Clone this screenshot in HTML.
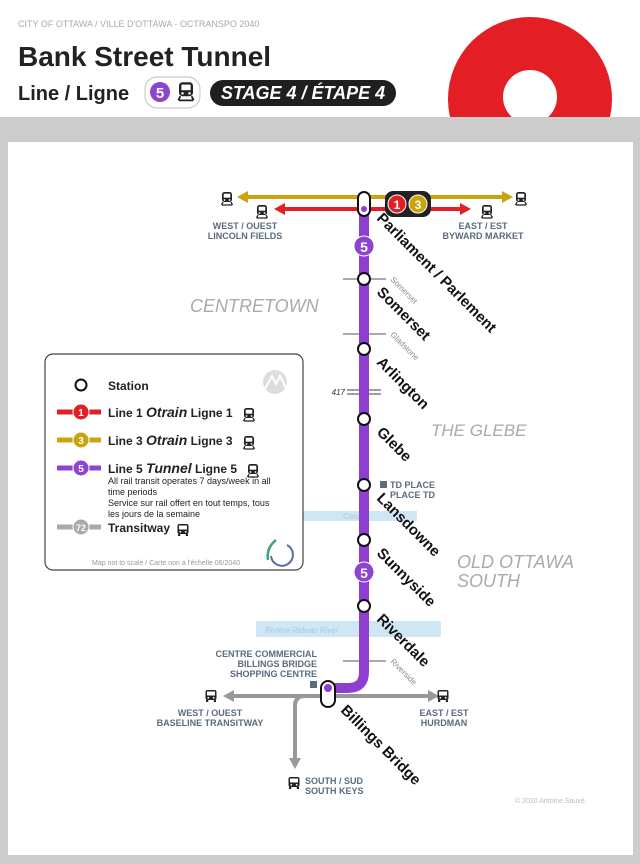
<!DOCTYPE html>
<html><head><meta charset="utf-8"><style>
html,body{margin:0;padding:0;background:#fff;}
svg{display:block;font-family:"Liberation Sans",sans-serif;}
</style></head><body>
<svg width="640" height="864" viewBox="0 0 640 864" xmlns="http://www.w3.org/2000/svg">
<defs>
<g id="tr"><rect x="-5" y="-7" width="10" height="10" rx="2.5" fill="#222"/><rect x="-3.3" y="-5.3" width="6.6" height="4" fill="#fff"/><circle cx="-2.5" cy="1" r="0.9" fill="#fff"/><circle cx="2.5" cy="1" r="0.9" fill="#fff"/><path d="M-4 3 L-5.5 6 M4 3 L5.5 6 M-5 6 H5" stroke="#222" stroke-width="1.3" fill="none"/></g>
<g id="bus"><rect x="-5.5" y="-6" width="11" height="10" rx="2" fill="#222"/><rect x="-4" y="-4.5" width="8" height="4" fill="#fff"/><circle cx="-2.7" cy="1.8" r="0.9" fill="#fff"/><circle cx="2.7" cy="1.8" r="0.9" fill="#fff"/><rect x="-5" y="4" width="2.2" height="2" fill="#222"/><rect x="2.8" y="4" width="2.2" height="2" fill="#222"/></g>
</defs>
<rect width="640" height="864" fill="#fff"/>
<!-- logo ring -->
<circle cx="530" cy="99" r="82" fill="#e31e24"/>
<circle cx="530" cy="97" r="27" fill="#fff"/>
<rect x="0" y="117" width="640" height="747" fill="#cccccc"/>
<rect x="8" y="142" width="625" height="713" fill="#fff"/>
<!-- header -->
<text x="18" y="27" font-size="9" fill="#aaa">CITY OF OTTAWA / VILLE D'OTTAWA - OCTRANSPO 2040</text>
<text x="18" y="66" font-size="28" font-weight="bold" fill="#222">Bank Street Tunnel</text>
<text x="18" y="100" font-size="20" font-weight="bold" fill="#222">Line / Ligne</text>
<rect x="145" y="77" width="55" height="31" rx="12" fill="#fff" stroke="#ccc" stroke-width="1.2"/>
<circle cx="160" cy="92" r="10" fill="#8e44d0"/>
<text x="160" y="98" font-size="15" font-weight="bold" fill="#fff" text-anchor="middle">5</text>
<use href="#tr" x="186" y="92" transform="translate(186 92) scale(1.4) translate(-186 -92)"/>
<rect x="210" y="80" width="186" height="26" rx="13" fill="#1f1f1f"/>
<text x="303" y="99" font-size="18" font-weight="bold" font-style="italic" fill="#fff" text-anchor="middle">STAGE 4 / ÉTAPE 4</text>

<!-- rivers -->
<rect x="303" y="511" width="114" height="10" fill="#cfe7f5"/>
<text x="343" y="519" font-size="8" font-style="italic" fill="#a8c8da">Canal</text>
<rect x="256" y="621" width="185" height="16" rx="2" fill="#cfe7f5"/>
<text x="265" y="633" font-size="8" font-style="italic" fill="#a8c8da">Rivière Rideau River</text>

<!-- areas -->
<text x="190" y="312" font-size="18" font-style="italic" fill="#aaa">CENTRETOWN</text>
<text x="431" y="436" font-size="17" font-style="italic" fill="#aaa">THE GLEBE</text>
<text x="457" y="568" font-size="18" font-style="italic" fill="#aaa">OLD OTTAWA</text>
<text x="457" y="587" font-size="18" font-style="italic" fill="#aaa">SOUTH</text>

<!-- top lines -->
<line x1="245" y1="197" x2="505" y2="197" stroke="#c9a40c" stroke-width="4"/>
<path d="M237 197 L248 191 L248 203Z M513 197 L502 191 L502 203Z" fill="#c9a40c"/>
<line x1="282" y1="209" x2="463" y2="209" stroke="#e01f26" stroke-width="4"/>
<path d="M274 209 L285 203 L285 215Z M471 209 L460 203 L460 215Z" fill="#e01f26"/>
<use href="#tr" x="227" y="199"/>
<use href="#tr" x="262" y="212"/>
<use href="#tr" x="487" y="212"/>
<use href="#tr" x="521" y="199"/>
<g font-size="9" font-weight="bold" fill="#5a6b7d" text-anchor="middle">
<text x="245" y="229">WEST / OUEST</text><text x="245" y="239">LINCOLN FIELDS</text>
<text x="483" y="229">EAST / EST</text><text x="483" y="239">BYWARD MARKET</text>
</g>

<!-- transitway -->
<line x1="232" y1="696" x2="430" y2="696" stroke="#999" stroke-width="4"/>
<path d="M223 696 L234 690 L234 702Z M439 696 L428 690 L428 702Z" fill="#999"/>
<path d="M305 696 Q295 696 295 706 V760" stroke="#999" stroke-width="4" fill="none"/>
<path d="M295 769 L289 758 L301 758Z" fill="#999"/>
<use href="#bus" x="211" y="696"/>
<use href="#bus" x="443" y="696"/>
<use href="#bus" x="294" y="783"/>
<g font-size="9" font-weight="bold" fill="#5a6b7d">
<text x="210" y="716" text-anchor="middle">WEST / OUEST</text><text x="210" y="726" text-anchor="middle">BASELINE TRANSITWAY</text>
<text x="444" y="716" text-anchor="middle">EAST / EST</text><text x="444" y="726" text-anchor="middle">HURDMAN</text>
<text x="305" y="784">SOUTH / SUD</text><text x="305" y="794">SOUTH KEYS</text>
<text x="317" y="657" text-anchor="end">CENTRE COMMERCIAL</text>
<text x="317" y="667" text-anchor="end">BILLINGS BRIDGE</text>
<text x="317" y="677" text-anchor="end">SHOPPING CENTRE</text>
<text x="390" y="488">TD PLACE</text><text x="390" y="498">PLACE TD</text>
</g>
<rect x="310" y="681" width="7" height="7" fill="#5a6b7d"/>
<rect x="380" y="481" width="7" height="7" fill="#5a6b7d"/>

<!-- streets ticks -->
<g stroke="#555" stroke-width="1">
<line x1="343" y1="279" x2="386" y2="279"/>
<line x1="343" y1="334" x2="386" y2="334"/>
<line x1="343" y1="661" x2="386" y2="661"/>
</g>
<g stroke="#666" stroke-width="1.2">
<line x1="347" y1="390" x2="381" y2="390"/><line x1="347" y1="394" x2="381" y2="394"/>
</g>
<text x="345" y="395" font-size="8" font-style="italic" fill="#333" text-anchor="end">417</text>
<g font-size="8" fill="#888">
<text transform="translate(390 280) rotate(45)">Somerset</text>
<text transform="translate(390 335) rotate(45)">Gladstone</text>
<text transform="translate(390 662) rotate(45)">Riverside</text>
</g>

<!-- line 5 -->
<path d="M364 205 V672 Q364 688 348 688 H328" stroke="#8e3fd0" stroke-width="10" fill="none"/>
<circle cx="364" cy="246" r="10" fill="#8e44d0" stroke="#fff" stroke-width="1"/>
<text x="364" y="252" font-size="14" font-weight="bold" fill="#fff" text-anchor="middle">5</text>
<circle cx="364" cy="572" r="10" fill="#8e44d0" stroke="#fff" stroke-width="1"/>
<text x="364" y="578" font-size="14" font-weight="bold" fill="#fff" text-anchor="middle">5</text>
<g fill="#fff" stroke="#111" stroke-width="2">
<circle cx="364" cy="279" r="6"/><circle cx="364" cy="349" r="6"/><circle cx="364" cy="419" r="6"/>
<circle cx="364" cy="485" r="6"/><circle cx="364" cy="540" r="6"/><circle cx="364" cy="606" r="6"/>
<rect x="358" y="192" width="12" height="24" rx="6"/>
<rect x="321" y="681" width="14" height="26" rx="7"/>
</g>
<circle cx="364" cy="209" r="3" fill="#8e3fd0"/>
<circle cx="328" cy="688" r="4" fill="#8e3fd0"/>
<rect x="385" y="191" width="46" height="26" rx="8" fill="#222"/>
<circle cx="397" cy="204" r="9" fill="#e01f26" stroke="#fff" stroke-width="1"/>
<text x="397" y="209" font-size="12" font-weight="bold" fill="#fff" text-anchor="middle">1</text>
<circle cx="418" cy="204" r="9" fill="#c9a40c" stroke="#fff" stroke-width="1"/>
<text x="418" y="209" font-size="12" font-weight="bold" fill="#fff" text-anchor="middle">3</text>

<!-- station labels -->
<g font-size="15" font-weight="bold" fill="#111">
<text transform="translate(376 219) rotate(45)">Parliament / Parlement</text>
<text transform="translate(376 293) rotate(45)">Somerset</text>
<text transform="translate(376 363) rotate(45)">Arlington</text>
<text transform="translate(376 433) rotate(45)">Glebe</text>
<text transform="translate(376 499) rotate(45)">Lansdowne</text>
<text transform="translate(376 554) rotate(45)">Sunnyside</text>
<text transform="translate(376 620) rotate(45)">Riverdale</text>
<text transform="translate(340 711) rotate(45)">Billings Bridge</text>
</g>
<text x="515" y="803" font-size="7" fill="#bbb">© 2020 Antoine Sauvé</text>

<!-- legend -->
<rect x="45" y="354" width="258" height="216" rx="8" fill="#fff" stroke="#444" stroke-width="1.2"/>
<circle cx="81" cy="385" r="5.5" fill="#fff" stroke="#111" stroke-width="2"/>
<text x="108" y="390" font-size="12" font-weight="bold" fill="#222">Station</text>
<circle cx="275" cy="382" r="12" fill="#ddd"/>
<path d="M265 389 L272 376 L276 384 L280 376 L286 388" stroke="#fff" stroke-width="2" fill="none"/>
<g font-size="12" font-weight="bold" fill="#222">
<line x1="57" y1="412" x2="101" y2="412" stroke="#e01f26" stroke-width="5"/>
<circle cx="81" cy="412" r="8" fill="#e01f26" stroke="#fff"/><text x="81" y="416" font-size="10" fill="#fff" text-anchor="middle">1</text>
<text x="108" y="417">Line 1 <tspan font-style="italic" font-size="14">Otrain</tspan>  Ligne 1</text>
<line x1="57" y1="440" x2="101" y2="440" stroke="#c9a40c" stroke-width="5"/>
<circle cx="81" cy="440" r="8" fill="#c9a40c" stroke="#fff"/><text x="81" y="444" font-size="10" fill="#fff" text-anchor="middle">3</text>
<text x="108" y="445">Line 3 <tspan font-style="italic" font-size="14">Otrain</tspan>  Ligne 3</text>
<line x1="57" y1="468" x2="101" y2="468" stroke="#8e44d0" stroke-width="5"/>
<circle cx="81" cy="468" r="8" fill="#8e44d0" stroke="#fff"/><text x="81" y="472" font-size="10" fill="#fff" text-anchor="middle">5</text>
<text x="108" y="473">Line 5 <tspan font-style="italic" font-size="14">Tunnel</tspan>  Ligne 5</text>
<line x1="57" y1="527" x2="101" y2="527" stroke="#aaa" stroke-width="5"/>
<circle cx="81" cy="527" r="8" fill="#aaa" stroke="#fff"/><text x="81" y="531" font-size="9" fill="#fff" text-anchor="middle">72</text>
<text x="108" y="532">Transitway</text>
</g>
<use href="#tr" x="249" y="415"/>
<use href="#tr" x="249" y="443"/>
<use href="#tr" x="253" y="471"/>
<use href="#bus" x="183" y="530"/>
<g font-size="9" fill="#222">
<text x="108" y="484">All rail transit operates 7 days/week in all</text>
<text x="108" y="495">time periods</text>
<text x="108" y="506">Service sur rail offert en tout temps, tous</text>
<text x="108" y="517">les jours de la semaine</text>
</g>
<path d="M287 545 A11 11 0 1 1 271 556" stroke="#5a6b9d" stroke-width="2" fill="none"/>
<path d="M276 540 Q266 548 268 560" stroke="#3aa57a" stroke-width="2.5" fill="none"/>
<text x="92" y="565" font-size="7" fill="#999">Map not to scale / Carte non a l'échelle 06/2040</text>
</svg>
</body></html>
